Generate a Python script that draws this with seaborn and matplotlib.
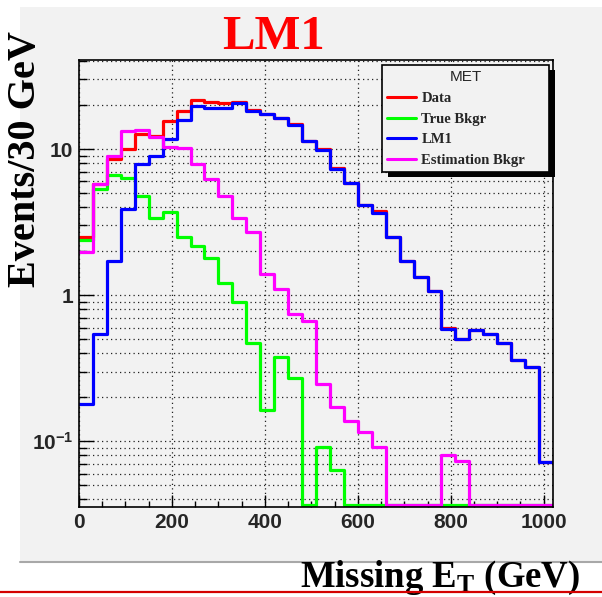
import numpy as np
import pandas as pd
import matplotlib
matplotlib.use("Agg")
import matplotlib.pyplot as plt
import matplotlib.ticker as mticker
from matplotlib.patches import Rectangle
from matplotlib.lines import Line2D
from matplotlib.font_manager import FontProperties
import seaborn as sns

# ---------------- data ----------------
bin_width = 30
n_bins = 34
edges = np.arange(0, n_bins * bin_width + 1, bin_width)

data_vals = [2.5, 5.8, 8.5, 10.0, 12.6, 12.3, 15.5, 18.1, 21.6, 21.1, 20.7, 21.1,
             18.5, 17.3, 16.4, 14.8, 11.3, 10.05, 7.4, 5.9, 4.15, 3.75, 2.5, 1.72,
             1.33, 1.07, 0.60, 0.50, 0.58, 0.54, 0.47, 0.36, 0.32, 0.072]
true_bkgr = [2.38, 5.32, 6.64, 6.36, 4.77, 3.38, 3.72, 2.5, 2.17, 1.81, 1.21, 0.90,
             0.471, 0.163, 0.378, 0.269, 0.0, 0.0914, 0.064, 0.0, 0.0, 0.0, 0.0, 0.0,
             0.0, 0.0, 0.0, 0.0, 0.0, 0.0, 0.0, 0.0, 0.0, 0.0]
lm1_vals = [0.18, 0.54, 1.72, 3.88, 7.9, 9.0, 11.8, 15.8, 19.7, 19.2, 19.2, 20.6,
            18.2, 17.3, 16.4, 14.6, 11.3, 9.84, 7.26, 5.88, 4.13, 3.68, 2.5, 1.72,
            1.33, 1.07, 0.585, 0.50, 0.58, 0.54, 0.47, 0.36, 0.32, 0.072]
est_bkgr = [1.98, 5.75, 9.0, 13.3, 13.6, 12.1, 10.4, 10.2, 7.89, 6.2, 4.79, 3.35,
            2.71, 1.39, 1.10, 0.738, 0.664, 0.245, 0.172, 0.137, 0.115, 0.0914, 0.0, 0.0,
            0.0, 0.0, 0.081, 0.0733, 0.0, 0.0, 0.0, 0.0, 0.0, 0.0]

series_names = ["Data", "True Bkgr", "LM1", "Estimation Bkgr"]
series_colors = ["#ff0000", "#00ff00", "#0000ff", "#ff00ff"]
legend_title = "MET"
title_text = "LM1"
ylabel_text = "Events/30 GeV"
xlabel_text = r"Missing $\mathdefault{E_T}$ (GeV)"
xticks = [0, 200, 400, 600, 800, 1000]
yticks = [0.1, 1, 10]
ytick_labels = [r"$\mathdefault{10^{-1}}$", "1", "10"]

# ---------------- style ----------------
sns.set_theme(style="ticks")
plt.rcParams["font.family"] = ["Liberation Sans", "DejaVu Sans"]

W, H = 602, 597
fig = plt.figure(figsize=(W / 100, H / 100), dpi=100)
fig.patch.set_facecolor("white")
canvas_gray = "#f2f2f2"

# ROOT canvas background
fig.add_artist(Rectangle((20 / W, 1 - 562 / H), (W - 20) / W, (562 - 7) / H,
                         transform=fig.transFigure, facecolor=canvas_gray,
                         edgecolor="none", zorder=-10))
fig.add_artist(Line2D([20 / W, 1], [1 - 562 / H, 1 - 562 / H], transform=fig.transFigure,
                      color="#a8a8a8", lw=1.5, zorder=-9))

ax = fig.add_axes([79 / W, 1 - 507 / H, (553 - 79) / W, (507 - 60) / H])
ax.set_facecolor(canvas_gray)

ymin, ymax = 0.0355, 40.7
floor = ymin * 1.035  # empty bins are drawn along the bottom of the frame

rows = []
for name, vals in zip(series_names, [data_vals, true_bkgr, lm1_vals, est_bkgr]):
    v = list(vals) + [vals[-1]]
    for x, y in zip(edges, v):
        rows.append((name, float(x), max(y, floor)))
df = pd.DataFrame(rows, columns=["series", "x", "y"])

sns.lineplot(data=df, x="x", y="y", hue="series", hue_order=series_names,
             palette=dict(zip(series_names, series_colors)), drawstyle="steps-post",
             estimator=None, sort=False, linewidth=2.3, legend=False, ax=ax, zorder=3)

ax.set_yscale("log")
ax.set_xlim(0, 1020)
ax.set_ylim(ymin, ymax)

ax.xaxis.set_major_locator(mticker.FixedLocator(xticks))
ax.xaxis.set_minor_locator(mticker.MultipleLocator(50))
ax.yaxis.set_major_locator(mticker.FixedLocator(yticks))
ax.yaxis.set_major_formatter(mticker.FixedFormatter(ytick_labels))
ax.yaxis.set_minor_locator(mticker.LogLocator(base=10, subs=np.arange(2, 10)))
ax.yaxis.set_minor_formatter(mticker.NullFormatter())
ax.set_xlabel("")
ax.set_ylabel("")

tick_font = FontProperties(family="Liberation Sans", weight="bold", size=15)
for lab in ax.get_xticklabels() + ax.get_yticklabels():
    lab.set_fontproperties(tick_font)

ax.tick_params(axis="both", which="both", direction="in", top=False, right=False,
               color="black", width=1.0)
ax.tick_params(axis="y", which="major", length=10.5, pad=4)
ax.tick_params(axis="y", which="minor", length=5.5)
ax.tick_params(axis="x", which="major", length=8.5, pad=4)
ax.tick_params(axis="x", which="minor", length=4.3)

dot = (0, (1, 2.6))
ax.grid(True, axis="y", which="both", color="#222222", linestyle=dot, linewidth=0.9)
ax.grid(True, axis="x", which="major", color="#222222", linestyle=dot, linewidth=0.9)
ax.grid(False, axis="x", which="minor")
ax.set_axisbelow(True)
for s in ax.spines.values():
    s.set_color("black")
    s.set_linewidth(1.2)
    s.set_visible(True)
    s.set_zorder(4)

# legend
handles = [Line2D([], [], color=c, lw=2.2) for c in series_colors]
leg = ax.legend(handles, series_names, title=legend_title, loc="upper left",
                bbox_to_anchor=(382 / W, 1 - 65 / H - 0.01, (549 - 382) / W, 0.01),
                bbox_transform=fig.transFigure, mode="expand",
                prop=FontProperties(family="Liberation Serif", weight="bold", size=10.5),
                title_fontproperties=FontProperties(family="Liberation Sans", size=11),
                frameon=True, fancybox=False, shadow=False, framealpha=1,
                facecolor=canvas_gray, edgecolor="black", borderpad=0.35,
                labelspacing=0.52, handlelength=2.0, handletextpad=0.35,
                borderaxespad=0)
leg.get_frame().set_linewidth(1.2)
leg.set_zorder(6)

fig.canvas.draw()
bb = leg.get_window_extent()
inv = fig.transFigure.inverted()
(x0, y0), (x1, y1) = inv.transform([[bb.x0 + 6, bb.y0 - 5], [bb.x1 + 6, bb.y1 - 5]])
ax.add_patch(Rectangle((x0, y0), x1 - x0, y1 - y0, transform=fig.transFigure,
                       facecolor="black", edgecolor="none", zorder=5.5, clip_on=False))

# texts
serif_bold = dict(family=["Liberation Serif", "DejaVu Serif"], weight="bold")
fig.text(273 / W, 1 - 49 / H, title_text, color="#ff0000", fontsize=35,
         ha="center", va="baseline", **serif_bold)
fig.text(26 / W, 1 - 159 / H, ylabel_text, rotation=90, fontsize=29,
         ha="center", va="center", color="black", **serif_bold)
fig.text(300 / W, 1 - 587 / H, xlabel_text, fontsize=26.5, ha="left", va="baseline",
         color="black", **serif_bold)
fig.add_artist(Line2D([0, 1], [1 - 592 / H, 1 - 592 / H], transform=fig.transFigure,
                      color="#d40000", lw=1.6, zorder=10))

fig.savefig("out.png", dpi=100, facecolor="white")
